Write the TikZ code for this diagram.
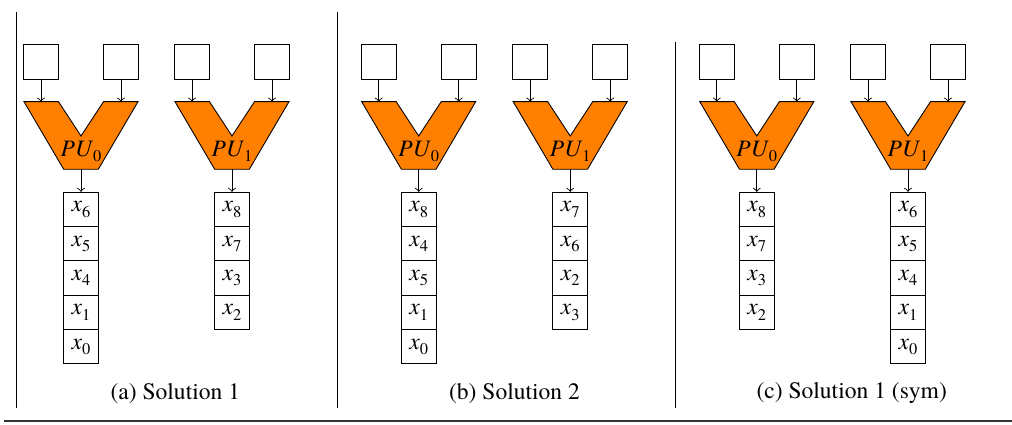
\documentclass[tikz,border=0pt]{standalone}
\usepackage{fontspec}
\setmainfont{texgyretermes}[Extension=.otf, UprightFont=*-regular, ItalicFont=*-italic, BoldFont=*-bold, BoldItalicFont=*-bolditalic]
\newcommand\xsb[1]{\raisebox{-0.22em}{\fontsize{7.4}{8}\selectfont #1}}
\newcommand\PUnit[4]{%
  \node[inbox] (#2inL) at (#1-40,62) {};
  \node[inbox] (#2inR) at (#1+40,62) {};
  \coordinate (#2tl) at (#1-40,101.7);
  \coordinate (#2tr) at (#1+40,101.7);
  \coordinate (#2bot) at (#1,169.3);
  \draw[pushape] (#1-57,101.7) -- (#1-22.5,101.7) -- (#1,136) -- (#1+22.5,101.7)
     -- (#1+57,101.7) -- (#1+17.3,169.3) -- (#1-17.3,169.3) -- cycle;
  \node (#2lab) at (#1,151.5) {\textit{PU}\xsb{#3}};
  \draw[conn] (#2inL) -- (#2tl);
  \draw[conn] (#2inR) -- (#2tr);
  \foreach \v [count=\i] in {#4} {
    \node[cell] (#2c\i) at (#1,{209.45+(\i-1)*34.3}) {\textit{x}\xsb{\v}};
  }
  \draw[conn] (#2bot) -- (#2c1);
}
\begin{document}
\begin{tikzpicture}[x=0.45pt,y=-0.45pt,
  font=\fontsize{10.6}{12.7}\selectfont,
  inbox/.style={draw, line width=0.4pt, minimum width=15.57pt, minimum height=15.57pt, inner sep=0pt},
  cell/.style={draw, line width=0.4pt, minimum width=15.57pt, minimum height=15.43pt, inner sep=0pt},
  pushape/.style={draw=black, fill=orange, line width=0.4pt, line join=miter},
  conn/.style={->, line width=0.4pt},
  sep/.style={line width=0.45pt}]
\useasboundingbox (0,0) rectangle (1012,425);

% separators
\draw[sep] (16.5,12) -- (16.5,408);
\draw[sep] (337.3,12) -- (337.3,408);
\draw[sep] (675.7,42) -- (675.7,408);
\draw[line width=0.5pt, black!80] (4,421) -- (1012,421);

% panel (a)
\PUnit{81}{aA}{0}{6,5,4,1,0}
\PUnit{232}{aB}{1}{8,7,3,2}
\node (capa) at (175.3,393.5) {(a) Solution 1};

% panel (b)
\PUnit{418.7}{bA}{0}{8,4,5,1,0}
\PUnit{570.2}{bB}{1}{7,6,2,3}
\node (capb) at (514.5,393.5) {(b) Solution 2};

% panel (c)
\PUnit{756.8}{cA}{0}{8,7,3,2}
\PUnit{908}{cB}{1}{6,5,4,1,0}
\node (capc) at (851.7,393.5) {(c) Solution 1 (sym)};
\end{tikzpicture}
\end{document}
